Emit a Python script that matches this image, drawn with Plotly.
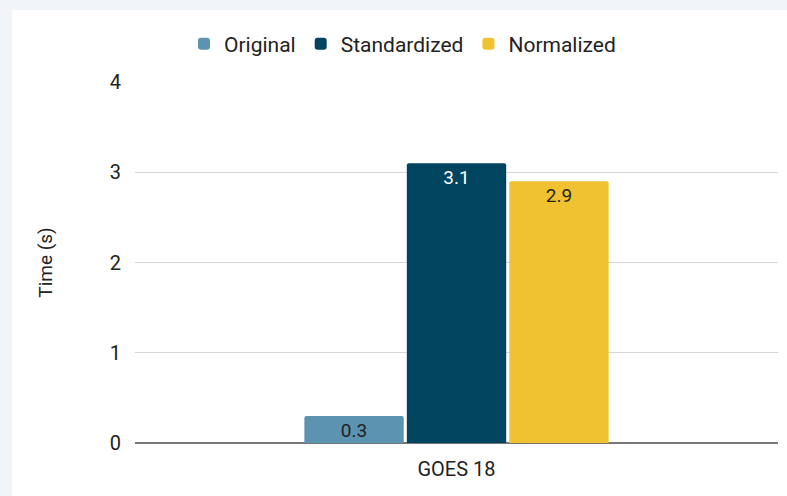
import plotly.graph_objects as go

categories = ["GOES 18"]
series_names = ["Original", "Standardized", "Normalized"]
original = [0.3]
standardized = [3.1]
normalized = [2.9]
colors = ["#5b93b0", "#01445f", "#f0c232"]
text_colors = ["#222222", "#ffffff", "#222222"]
y_ticks = [0, 1, 2, 3, 4]

W, H = 787, 496
L, R, T, B = 135, 9, 82, 53
pw, ph = W - L - R, H - T - B

fig = go.Figure()
for name, vals, c, tc in zip(series_names, [original, standardized, normalized], colors, text_colors):
    fig.add_trace(go.Bar(
        x=categories, y=vals, name=name, marker_color=c,
        text=[f"{v:.1f}" for v in vals], textposition="inside",
        insidetextanchor="end", constraintext="none",
        textfont=dict(color=tc, size=19, family="Roboto"),
        marker_line_width=0,
    ))

fig.update_layout(
    width=W, height=H,
    margin=dict(l=L, r=R, t=T, b=B),
    paper_bgcolor="#f1f4f9",
    plot_bgcolor="white",
    barmode="group", bargap=0.522, bargroupgap=0.03,
    barcornerradius=2,
    font=dict(family="Roboto", size=20, color="#222222"),
    legend=dict(orientation="h", x=0.416, xanchor="center", y=(H - B - 44) / ph, yanchor="middle",
                font=dict(size=21, color="#222222"), bgcolor="rgba(0,0,0,0)",
                itemwidth=30, tracegroupgap=0),
    shapes=[dict(type="rect", xref="paper", yref="paper",
                 x0=(12 - L) / pw, x1=2, y0=-1, y1=(H - B - 10) / ph,
                 fillcolor="white", line_width=0, layer="below")],
    showlegend=True,
)
fig.update_yaxes(range=[0, 4], tickvals=y_ticks, showgrid=True, gridcolor="#d6d6d6",
                 zeroline=True, zerolinecolor="#777777", zerolinewidth=2,
                 ticks="outside", ticklen=9, tickcolor="rgba(0,0,0,0)",
                 tickfont=dict(size=20), title=dict(text="Time (s)", font=dict(size=19), standoff=52))
fig.update_xaxes(tickfont=dict(size=20), showline=False,
                 ticks="outside", ticklen=8, tickcolor="rgba(0,0,0,0)")

fig.write_html("out.html")
